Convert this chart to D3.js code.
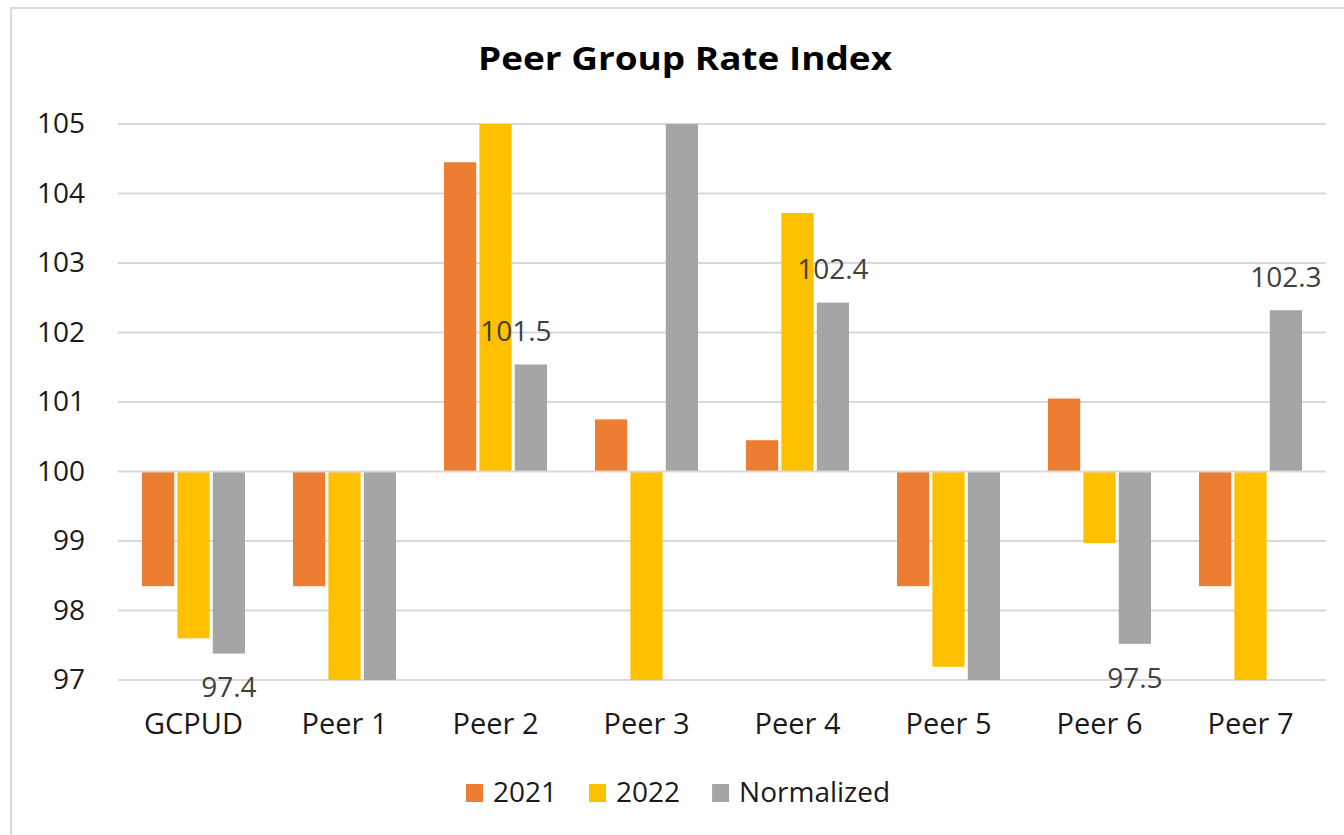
<!DOCTYPE html>
<html>
<head>
<meta charset="utf-8">
<script src="https://cdn.jsdelivr.net/npm/d3@7"></script>
<style>
  html, body { margin: 0; padding: 0; background: #fff; }
  svg { display: block; }
</style>
</head>
<body>
<svg id="chart" width="1344" height="835"></svg>
<script>
// ---- data ----
const categories = ["GCPUD", "Peer 1", "Peer 2", "Peer 3", "Peer 4", "Peer 5", "Peer 6", "Peer 7"];
const seriesNames = ["2021", "2022", "Normalized"];
const values2021 = [98.35, 98.35, 104.45, 100.75, 100.45, 98.35, 101.05, 98.35];
const values2022 = [97.6, 96.5, 105.5, 96.5, 103.72, 97.19, 98.97, 96.5];
const valuesNormalized = [97.38, 96.5, 101.54, 105.5, 102.43, 96.5, 97.52, 102.32];
const yTicks = [97, 98, 99, 100, 101, 102, 103, 104, 105];
const title = "Peer Group Rate Index";

const colors = { "2021": "#ED7D31", "2022": "#FFC000", "Normalized": "#A5A5A5" };
const seriesValues = { "2021": values2021, "2022": values2022, "Normalized": valuesNormalized };

const font = "'Open Sans', 'Noto Sans', sans-serif";
const svg = d3.select("#chart");

// outer border
svg.append("rect").attr("x", 11).attr("y", 8).attr("width", 1400).attr("height", 900)
  .attr("fill", "none").attr("stroke", "#d9d9d9").attr("stroke-width", 2);

const plot = { left: 118, right: 1326, top: 124, bottom: 680 };
const baseValue = 100;

const x0 = d3.scaleBand().domain(categories).range([plot.left, plot.right])
  .paddingInner(0.318).paddingOuter(0.159);
const x1 = d3.scaleBand().domain(seriesNames).range([0, x0.bandwidth()]).paddingInner(0.09);
const y = d3.scaleLinear().domain([97, 105]).range([plot.bottom, plot.top]);

// title
svg.append("text").attr("x", 685).attr("y", 70).attr("text-anchor", "middle")
  .attr("font-family", font).attr("font-weight", "bold").attr("font-size", 33)
  .attr("textLength", 414).attr("lengthAdjust", "spacingAndGlyphs")
  .attr("fill", "#000").text(title);

// gridlines
const grid = svg.append("g");
grid.selectAll("line").data(yTicks.filter(t => t !== baseValue)).join("line")
  .attr("x1", plot.left).attr("x2", plot.right)
  .attr("y1", d => y(d)).attr("y2", d => y(d))
  .attr("stroke", "#d9d9d9").attr("stroke-width", 2);

// y axis labels
const yAxis = d3.axisLeft(y).tickValues(yTicks).tickSize(0).tickPadding(0);
const yg = svg.append("g").attr("transform", "translate(85,0)").call(yAxis);
yg.select(".domain").remove();
yg.selectAll("text").attr("font-family", font).attr("font-size", 28).attr("fill", "#1a1a1a");

// clip
svg.append("clipPath").attr("id", "plotclip").append("rect")
  .attr("x", plot.left).attr("y", plot.top).attr("width", plot.right - plot.left).attr("height", plot.bottom - plot.top);

const rows = [];
categories.forEach((c, i) => seriesNames.forEach(s => rows.push({ cat: c, series: s, value: seriesValues[s][i] })));

svg.append("g").attr("clip-path", "url(#plotclip)")
  .selectAll("rect").data(rows).join("rect")
  .attr("x", d => x0(d.cat) + x1(d.series))
  .attr("width", x1.bandwidth())
  .attr("y", d => Math.min(y(d.value), y(baseValue)))
  .attr("height", d => Math.abs(y(d.value) - y(baseValue)))
  .attr("fill", d => colors[d.series]);

// baseline (value 100) line on top
svg.append("line").attr("x1", plot.left).attr("x2", plot.right)
  .attr("y1", y(baseValue)).attr("y2", y(baseValue))
  .attr("stroke", "#d9d9d9").attr("stroke-width", 2);

// data labels for Normalized (only in visible range)
const labelNudge = { "Peer 2": -15 };
const labelRows = categories.map((c, i) => ({ cat: c, value: valuesNormalized[i] }))
  .filter(d => d.value >= 97 && d.value <= 105);
svg.append("g").selectAll("text").data(labelRows).join("text")
  .attr("x", d => x0(d.cat) + x1("Normalized") + x1.bandwidth() / 2 + (labelNudge[d.cat] || 0))
  .attr("y", d => d.value >= baseValue ? y(d.value) - 33 : y(d.value) + 34)
  .attr("dy", "0.35em")
  .attr("text-anchor", "middle")
  .attr("font-family", font).attr("font-size", 28).attr("fill", "#404040")
  .text(d => d.value.toFixed(1));

// category labels
const xAxis = d3.axisBottom(x0).tickSize(0).tickPadding(0);
const xg = svg.append("g").attr("transform", `translate(0,${plot.bottom})`).call(xAxis);
xg.select(".domain").remove();
xg.selectAll("text").attr("font-family", font).attr("font-size", 29).attr("fill", "#1a1a1a")
  .attr("dy", null).attr("y", 54);

// legend
const legend = svg.append("g");
let lx = 466;
seriesNames.forEach(s => {
  const g = legend.append("g").attr("transform", `translate(${lx},0)`);
  g.append("rect").attr("x", 0).attr("y", 784).attr("width", 17).attr("height", 18).attr("fill", colors[s]);
  const t = g.append("text").attr("x", 27).attr("y", 802)
    .attr("font-family", font).attr("font-size", 28).attr("fill", "#1a1a1a").text(s);
  const w = t.node().getComputedTextLength();
  lx += 27 + w + 32;
});
</script>
</body>
</html>
